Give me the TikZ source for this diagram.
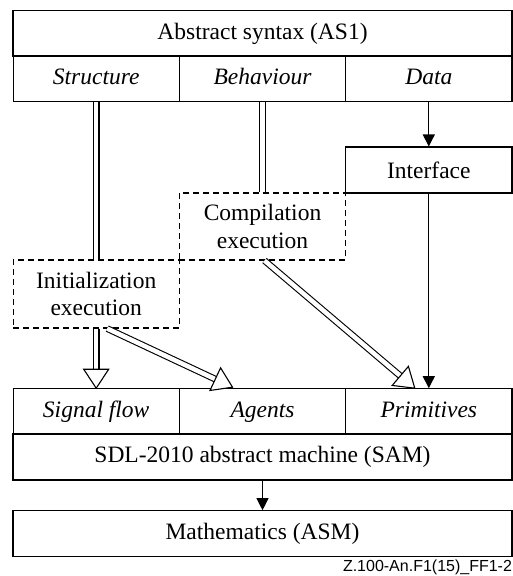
\documentclass[tikz,border=0pt]{standalone}
\usepackage{fontspec}
\setmainfont{Liberation Serif}
\newfontfamily\figfont{Liberation Sans}
\usetikzlibrary{arrows.meta,calc}
\newcommand{\dline}[2]{
\draw [double, double distance=4.5pt] (#1) -- (#2);
}
\newcommand{\harrow}[2]{
\draw [double, double distance=4.5pt, shorten >=15pt] (#1) -- (#2);
\draw [fill=white, line join=miter] ($(#2)!19pt!(#1)!12.5pt!90:(#1)$) -- (#2) -- ($(#2)!19pt!(#1)!12.5pt!-90:(#1)$) -- cycle;
}
\begin{document}
\begin{tikzpicture}[x=1pt, y=-1pt, line width=1.1pt,
  box/.style={draw, rectangle, inner sep=0pt, minimum width=166.3pt, minimum height=45.5pt,
    align=center, font=\fontsize{23.5}{27.5}\selectfont},
  col/.style={box, text height=16.5pt, text depth=5pt, font=\fontsize{23.5}{27.5}\selectfont\itshape},
  dbox/.style={box, dash pattern=on 6pt off 4pt},
  arr/.style={-{Triangle[length=12pt,width=12pt]}}]
\useasboundingbox (0,0) rectangle (513,576);
\node [box, minimum width=499pt] (as1) at (262.5,33.5) {Abstract syntax (AS1)};
\foreach \n/\t [count=\i from 0] in {struct/Structure, behav/Behaviour, data/Data}
	{\node [col] (\n) at (96.2+\i*166.3, 78.5) {\t};}
\node [box, minimum height=46pt] (iface) at (428.8,170) {Interface};
\node [dbox, minimum height=67pt] (comp) at (262.5,226.5) {Compilation\\execution};
\node [dbox, minimum height=68pt] (init) at (96.2,294) {Initialization\\execution};
\foreach \n/\t [count=\i from 0] in {sig/Signal flow, agents/Agents, prim/Primitives}
	{\node [col] (\n) at (96.2+\i*166.3, 411.5) {\t};}
\node [box, minimum width=499pt, minimum height=46pt] (sam) at (262.5,457) {SDL-2010 abstract machine (SAM)};
\node [box, minimum width=499pt] (asm) at (262.5,533.5) {Mathematics (ASM)};
\node [anchor=east, inner sep=0pt, font=\figfont\fontsize{16}{18}\selectfont] (tag) at (512.5,567.5) {Z.100-An.F1(15)\_FF1-2};

\coordinate (initR) at ([xshift=11pt]init.south);
\coordinate (compB) at ([xshift=2pt]comp.south);
\coordinate (agentsT) at ([xshift=-30pt, yshift=1pt]agents.north);
\coordinate (primT) at ([xshift=-14pt]prim.north);

\dline{struct}{init}
\dline{behav}{comp}
\draw [arr] (data) -- (iface);
\draw [arr] (iface) -- (prim);
\harrow{init.south}{sig.north}
\harrow{initR}{agentsT}
\harrow{compB}{primT}
\draw [arr] (sam) -- (asm);
\end{tikzpicture}
\end{document}
